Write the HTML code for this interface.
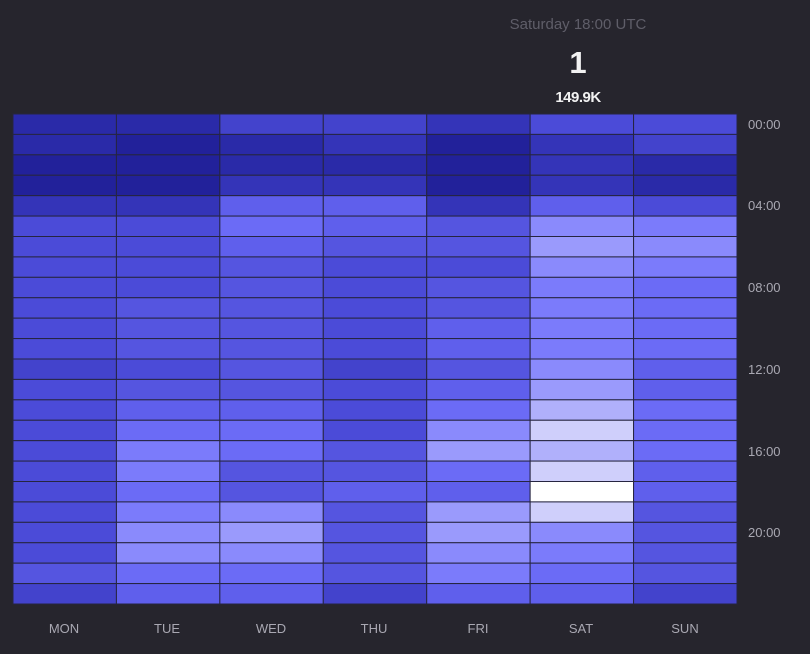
<!DOCTYPE html>
<html><head><meta charset="utf-8"><style>
html,body{margin:0;padding:0;background:#26252d;width:810px;height:654px;overflow:hidden}
svg{display:block}
</style></head><body>
<svg id="s" width="810" height="654" xmlns="http://www.w3.org/2000/svg" font-family="Liberation Sans, sans-serif">
<rect width="810" height="654" fill="#26252d"/>
<text x="578" y="29" text-anchor="middle" fill="#5f5e69" font-size="15">Saturday 18:00 UTC</text>
<text x="578" y="73" text-anchor="middle" fill="#f2f2f2" font-size="31" font-weight="bold">1</text>
<text x="578" y="102" text-anchor="middle" fill="#f2f2f2" font-size="15" font-weight="bold" letter-spacing="-0.5">149.9K</text>
<g id="g"></g>
<g fill="#a9a8b2" font-size="13">
<text x="748" y="129">00:00</text>
<text x="748" y="210">04:00</text>
<text x="748" y="292">08:00</text>
<text x="748" y="374">12:00</text>
<text x="748" y="456">16:00</text>
<text x="748" y="537">20:00</text>
</g>
<g fill="#a9a8b2" font-size="13" text-anchor="middle">
<text x="64" y="633">MON</text><text x="167" y="633">TUE</text><text x="271" y="633">WED</text><text x="374" y="633">THU</text><text x="478" y="633">FRI</text><text x="581" y="633">SAT</text><text x="685" y="633">SUN</text>
</g>
</svg>
<script>
var pal=["#22219a","#2a2aa8","#3434b8","#4343cc","#4b4bd8","#5555e0","#5f5fec","#6b6bf6","#7b7bfb","#8a8afc","#9a9afc","#b0b0fb","#cfcffb","#ffffff"];
var d=[[1,1,3,3,2,4,4],[1,0,1,2,0,2,3],[0,0,1,1,0,2,1],[0,0,2,2,0,2,1],[2,2,6,6,2,6,4],[4,4,7,6,5,9,8],[4,4,6,5,5,10,9],[4,4,5,4,4,9,8],[4,4,5,4,5,8,7],[4,5,5,4,5,8,7],[4,5,5,4,6,8,7],[4,5,5,4,6,8,7],[3,4,5,3,5,9,6],[4,5,5,4,6,10,6],[4,6,6,4,7,11,7],[4,7,7,4,9,12,7],[4,8,7,5,10,11,7],[4,8,5,5,7,12,6],[4,7,5,6,6,13,6],[4,8,9,5,10,12,5],[4,9,10,5,10,9,5],[4,9,9,5,9,8,5],[5,7,7,5,8,7,5],[3,6,6,3,6,6,3]];
var g=document.getElementById("g"),h="",cw=724/7,ch=490/24;
for(var r=0;r<24;r++)for(var c=0;c<7;c++){h+='<rect x="'+(13+c*cw)+'" y="'+(114+r*ch)+'" width="'+cw+'" height="'+ch+'" fill="'+pal[d[r][c]]+'" stroke="#262540" stroke-width="1"/>';}
g.innerHTML=h;
</script>
</body></html>
